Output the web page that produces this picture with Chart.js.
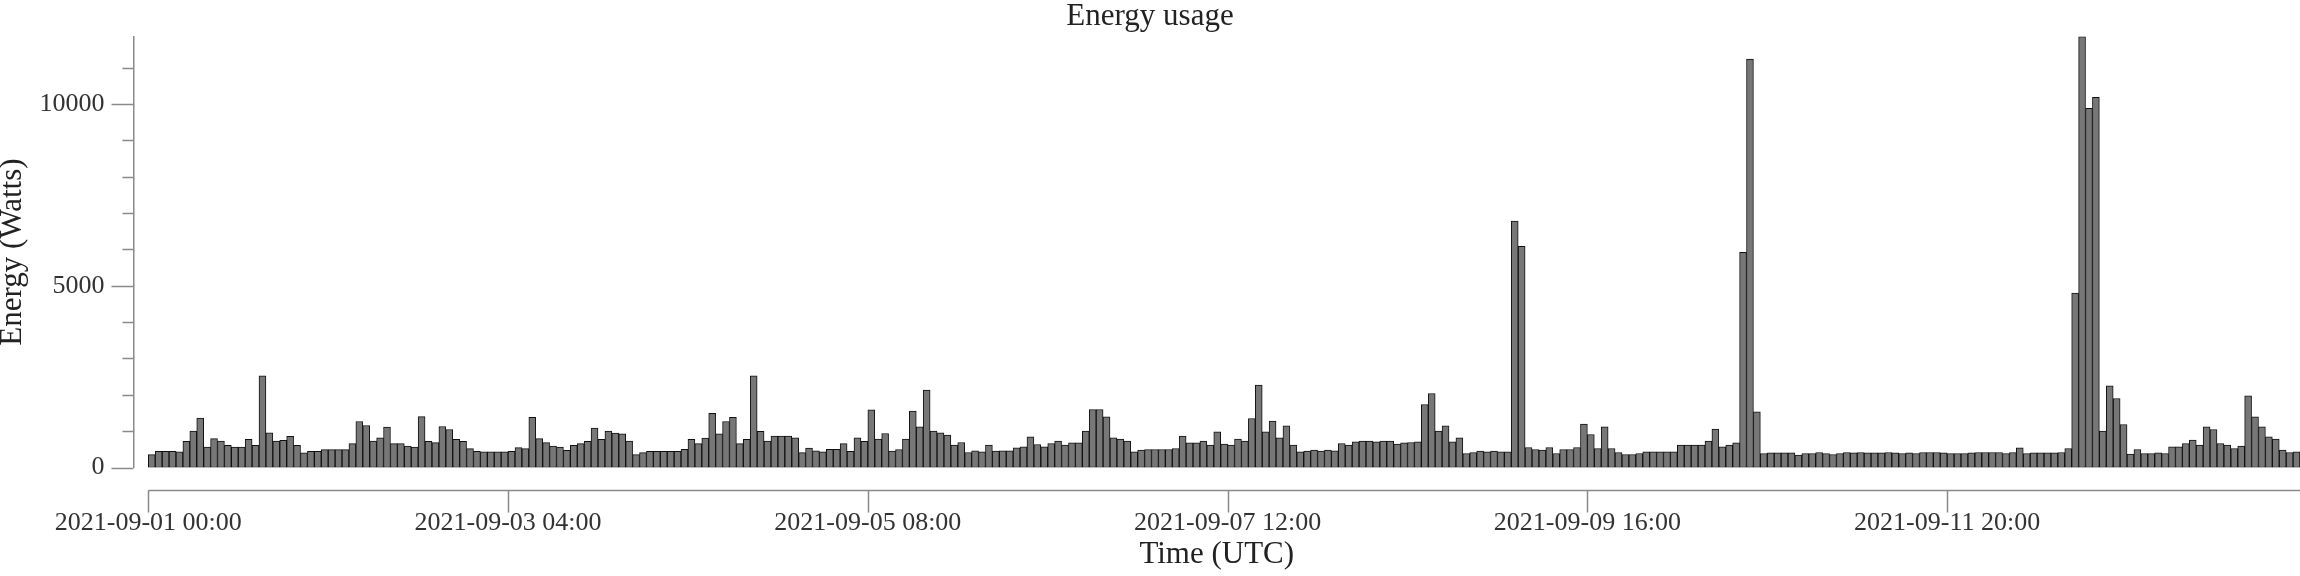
<!DOCTYPE html>
<html>
<head>
<meta charset="utf-8">
<title>Energy usage</title>
<script src="https://cdn.jsdelivr.net/npm/chart.js@4"></script>
<style>
    html, body { margin: 0; padding: 0; background: #fff; overflow: hidden; }
    canvas { display: block; }
</style>
</head>
<body>
<canvas id="energyChart" width="2300" height="576"></canvas>
<script>
// hourly readings, first one is 2021-09-01 00:00 UTC
const energy = [
    355, 446, 446, 446, 430, 720, 1000, 1356, 564, 792, 728, 610, 564, 564, 774, 610,
    2520, 955, 728, 746, 855, 610, 400, 446, 446, 490, 490, 490, 490, 655, 1265, 1156,
    728, 819, 1110, 655, 655, 592, 564, 1400, 720, 683, 1128, 1046, 774, 720, 519, 446,
    428, 428, 428, 428, 446, 546, 519, 1383, 792, 683, 592, 564, 473, 610, 655, 720,
    1083, 774, 1000, 946, 928, 728, 355, 410, 446, 446, 446, 446, 446, 500, 774, 655,
    810, 1492, 928, 1265, 1383, 655, 774, 2520, 992, 728, 864, 864, 864, 819, 410, 537,
    455, 428, 500, 500, 655, 446, 819, 720, 1583, 780, 935, 449, 495, 780, 1550, 1119,
    2127, 1000, 954, 890, 614, 688, 413, 458, 431, 614, 449, 458, 458, 541, 569, 844,
    633, 569, 660, 724, 614, 679, 679, 1000, 1596, 1596, 1394, 816, 780, 724, 431, 477,
    495, 495, 495, 495, 523, 862, 679, 679, 724, 614, 981, 642, 614, 780, 724, 1348,
    2265, 981, 1275, 816, 1146, 614, 431, 449, 477, 449, 477, 458, 660, 620, 706, 724,
    724, 706, 724, 724, 642, 679, 688, 706, 1733, 2036, 1000, 1146, 706, 816, 385, 413,
    449, 431, 449, 431, 431, 6780, 6080, 550, 495, 477, 550, 385, 495, 495, 550, 1192,
    908, 523, 1119, 523, 413, 358, 358, 385, 431, 431, 431, 431, 431, 614, 614, 614,
    614, 724, 1055, 569, 614, 679, 5920, 11230, 1531, 385, 400, 400, 400, 400, 340, 385,
    385, 413, 385, 358, 385, 413, 400, 413, 400, 400, 400, 413, 400, 385, 400, 385,
    413, 413, 413, 400, 385, 385, 385, 400, 413, 413, 413, 413, 385, 413, 541, 385,
    400, 400, 400, 400, 413, 523, 4800, 11850, 9880, 10180, 1000, 2247, 1898, 1183, 367, 495,
    385, 385, 400, 385, 569, 569, 660, 752, 614, 1119, 1046, 660, 614, 523, 587, 1972,
    1394, 1119, 844, 780, 477, 413, 431, 430
];

const tickHours = [0, 52, 104, 156, 208, 260];
const tickLabels = ['2021-09-01 00:00', '2021-09-03 04:00', '2021-09-05 08:00',
    '2021-09-07 12:00', '2021-09-09 16:00', '2021-09-11 20:00'];
const yTickValues = [0, 1000, 2000, 3000, 4000, 5000, 6000, 7000, 8000, 9000, 10000, 11000];

const axisColor = '#8a8a8a';
const textColor = '#333';

Chart.defaults.font.family = '"Liberation Serif", "Times New Roman", serif';

// d3 style tick marks + the detached time axis under the bars
const axisMarks = {
    id: 'axisMarks',
    afterDraw(chart) {
        const ctx = chart.ctx, x = chart.scales.x, y = chart.scales.y;
        ctx.save();
        ctx.strokeStyle = axisColor;
        ctx.lineWidth = 1.5;
        ctx.beginPath();
        y.ticks.forEach(function (t) {
            const py = Math.round(y.getPixelForValue(t.value)) + 0.5;
            const len = t.value % 5000 === 0 ? 22 : 11;
            ctx.moveTo(y.right - len, py);
            ctx.lineTo(y.right, py);
        });
        const base = Math.round(chart.chartArea.bottom + 22) + 0.5;
        ctx.moveTo(x.getPixelForValue(0), base);
        ctx.lineTo(x.right, base);
        x.ticks.forEach(function (t) {
            const px = Math.round(x.getPixelForValue(t.value)) + 0.5;
            ctx.moveTo(px, base);
            ctx.lineTo(px, base + 22);
        });
        ctx.stroke();
        ctx.restore();
    }
};

new Chart(document.getElementById('energyChart'), {
    type: 'bar',
    data: {
        datasets: [{
            data: energy.map(function (v, i) { return {x: i + 0.5, y: v}; }),
            backgroundColor: '#777',
            borderColor: '#111',
            borderWidth: 1,
            borderSkipped: false,
            barPercentage: 1,
            categoryPercentage: 1
        }]
    },
    options: {
        responsive: false,
        animation: false,
        devicePixelRatio: 1,
        layout: {padding: 0},
        plugins: {
            legend: {display: false},
            tooltip: {enabled: false},
            title: {
                display: true,
                text: 'Energy usage',
                color: '#222',
                font: {size: 31, weight: 'normal', lineHeight: 1},
                padding: {top: -5.5, bottom: 3.9}
            }
        },
        scales: {
            x: {
                type: 'linear',
                offset: false,
                min: -2.14,
                max: 311,
                grid: {display: false},
                border: {display: false},
                afterBuildTicks: function (scale) {
                    scale.ticks = tickHours.map(function (h) { return {value: h}; });
                },
                afterFit: function (scale) { scale.height = 108.5; },
                ticks: {
                    autoSkip: false,
                    maxRotation: 0,
                    padding: 32,
                    color: textColor,
                    font: {size: 26},
                    callback: function (value, index) { return tickLabels[index]; }
                },
                title: {
                    display: true,
                    text: 'Time (UTC)',
                    color: '#222',
                    font: {size: 31},
                    padding: {top: 0, bottom: 2.5}
                }
            },
            y: {
                min: 0,
                max: 11850,
                grid: {display: false},
                border: {display: true, color: axisColor, width: 1.5},
                afterBuildTicks: function (scale) {
                    scale.ticks = yTickValues.map(function (v) { return {value: v}; });
                },
                afterFit: function (scale) { scale.width = 133.5; },
                ticks: {
                    padding: 21,
                    color: textColor,
                    font: {size: 26},
                    callback: function (value) { return value % 5000 === 0 ? String(value) : ''; }
                },
                title: {
                    display: true,
                    text: 'Energy (Watts)',
                    color: '#222',
                    font: {size: 31, lineHeight: 0.84},
                    padding: 0
                }
            }
        }
    },
    plugins: [axisMarks]
});
</script>
</body>
</html>
